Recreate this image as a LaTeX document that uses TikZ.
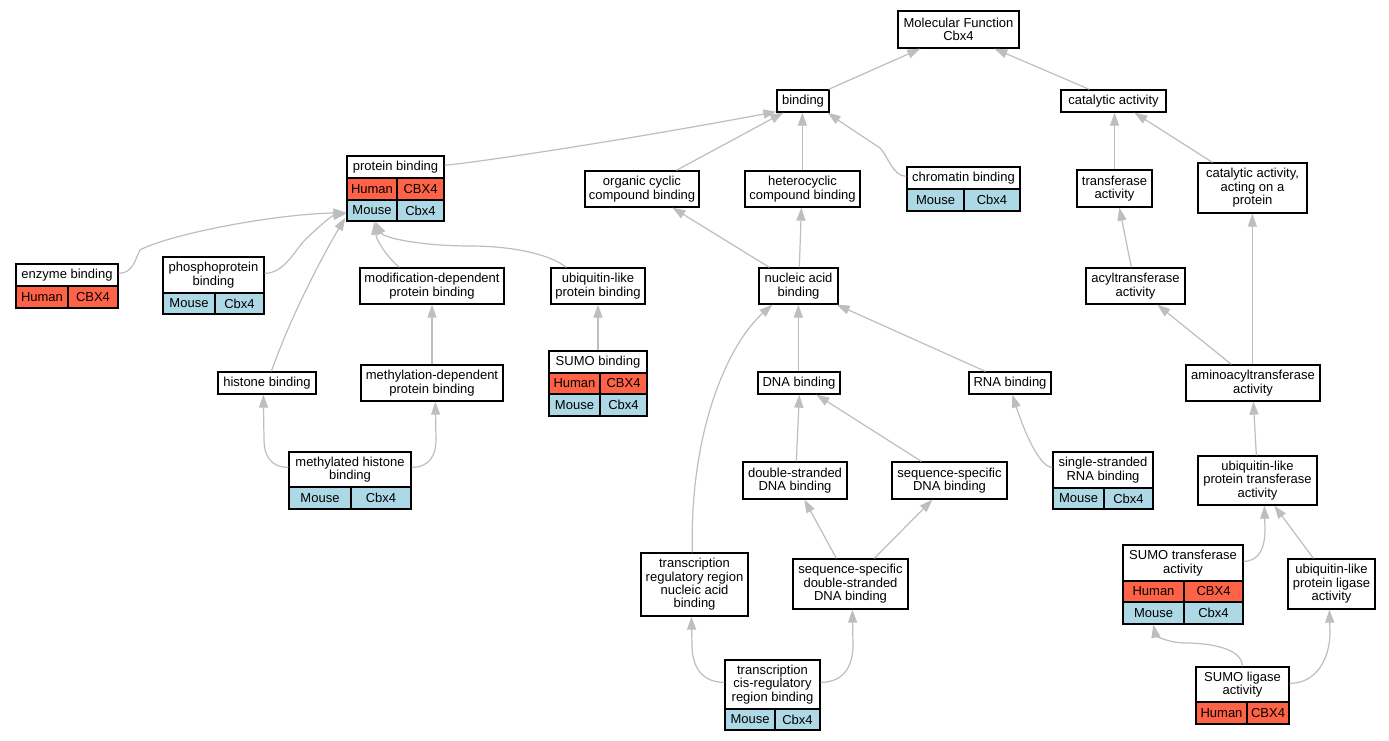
\documentclass[tikz,border=0pt]{standalone}
\usepackage{fontspec}
\setmainfont{Liberation Sans}
\usetikzlibrary{arrows.meta,calc}
\definecolor{edgegray}{HTML}{BEBEBE}
\definecolor{humanred}{HTML}{FF6347}
\definecolor{mouseblue}{HTML}{ADD8E6}
\newcommand\gofont{\fontsize{13}{13.4}\selectfont}
\tikzset{
  gobox/.style={draw=black, line width=1.3pt, fill=white, inner sep=0pt, align=center, font=\gofont},
  gocell/.style={draw=black, line width=1.3pt, inner sep=0pt, align=center, font=\gofont},
  goframe/.style={draw=black, line width=1.3pt, inner sep=0pt, fill=none},
  goedge/.style={draw=edgegray, line width=1.2pt, -{Triangle[length=13pt,width=9pt]}},
}
% name, x1, y1, x2, y2, text
\newcommand\gbox[6]{\node[gobox, minimum width={(#4)-(#2)}, minimum height={(#5)-(#3)}] (#1) at ({((#2)+(#4))/2},{((#3)+(#5))/2}) {#6};}
% name, x1, y1, x2, y2, colour, text
\newcommand\gcell[7]{\node[gocell, fill=#6, minimum width={(#4)-(#2)}, minimum height={(#5)-(#3)}] (#1) at ({((#2)+(#4))/2},{((#3)+(#5))/2}) {#7};}
% name, x1, y1, x2, y2
\newcommand\gframe[5]{\node[goframe, minimum width={(#4)-(#2)}, minimum height={(#5)-(#3)}] (#1) at ({((#2)+(#4))/2},{((#3)+(#5))/2}) {};}
\begin{document}
\begin{tikzpicture}[x=1pt,y=-1pt]
\fill[white] (0,0) rectangle (1389,741);
\useasboundingbox (0,0) rectangle (1389,741);

% ---------- plain boxes ----------
\gbox{mf}{898}{11}{1019}{48}{Molecular Function\\Cbx4}
\gbox{bind}{777}{90}{829}{112}{binding}
\gbox{cat}{1061}{90}{1166}{112}{catalytic activity}
\gbox{occb}{585}{171}{699}{207}{organic cyclic\\compound binding}
\gbox{hccb}{745}{171}{860}{207}{heterocyclic\\compound binding}
\gbox{trans}{1077}{170}{1152}{207}{transferase\\activity}
\gbox{catp}{1198}{163}{1307}{213}{catalytic activity,\\acting on a\\protein}
\gbox{modp}{360}{268}{504}{304}{modification-dependent\\protein binding}
\gbox{ublp}{551}{268}{645}{304}{ubiquitin-like\\protein binding}
\gbox{nab}{759}{268}{838}{304}{nucleic acid\\binding}
\gbox{acyl}{1086}{268}{1185}{304}{acyltransferase\\activity}
\gbox{hist}{218}{372}{316}{394}{histone binding}
\gbox{methp}{361}{365}{503}{401}{methylation-dependent\\protein binding}
\gbox{dna}{758}{372}{840}{394}{DNA binding}
\gbox{rna}{969}{372}{1051}{394}{RNA binding}
\gbox{amino}{1186}{365}{1320}{401}{aminoacyltransferase\\activity}
\gbox{ds}{743}{462}{847}{499}{double-stranded\\DNA binding}
\gbox{ssd}{892}{462}{1007}{499}{sequence-specific\\DNA binding}
\gbox{ubt}{1198}{456}{1317}{505}{ubiquitin-like\\protein transferase\\activity}
\gbox{trr}{641}{553}{748}{616}{transcription\\regulatory region\\nucleic acid\\binding}
\gbox{ssds}{793}{559}{908}{609}{sequence-specific\\double-stranded\\DNA binding}
\gbox{ubl}{1288}{559}{1375}{609}{ubiquitin-like\\protein ligase\\activity}

% ---------- tables ----------
% protein binding
\gcell{pb-h}{347}{156}{444}{178}{white}{protein binding}
\gcell{pb-ha}{347}{178}{397}{200}{humanred}{Human}
\gcell{pb-hb}{397}{178}{444}{200}{humanred}{CBX4}
\gcell{pb-ma}{347}{200}{397}{221}{mouseblue}{Mouse}
\gcell{pb-mb}{397}{200}{444}{221}{mouseblue}{Cbx4}
\gframe{pb}{347}{156}{444}{221}
% chromatin binding
\gcell{chrom-h}{907}{167}{1020}{189}{white}{chromatin binding}
\gcell{chrom-ma}{907}{189}{964}{211}{mouseblue}{Mouse}
\gcell{chrom-mb}{964}{189}{1020}{211}{mouseblue}{Cbx4}
\gframe{chrom}{907}{167}{1020}{211}
% enzyme binding
\gcell{enz-h}{16}{264}{118}{286}{white}{enzyme binding}
\gcell{enz-ha}{16}{286}{68}{308}{humanred}{Human}
\gcell{enz-hb}{68}{286}{118}{308}{humanred}{CBX4}
\gframe{enz}{16}{264}{118}{308}
% phosphoprotein binding
\gcell{phos-h}{163}{257}{264}{293}{white}{phosphoprotein\\binding}
\gcell{phos-ma}{163}{293}{215}{314}{mouseblue}{Mouse}
\gcell{phos-mb}{215}{293}{264}{314}{mouseblue}{Cbx4}
\gframe{phos}{163}{257}{264}{314}
% SUMO binding
\gcell{sumob-h}{549}{351}{647}{373}{white}{SUMO binding}
\gcell{sumob-ha}{549}{373}{600}{394}{humanred}{Human}
\gcell{sumob-hb}{600}{373}{647}{394}{humanred}{CBX4}
\gcell{sumob-ma}{549}{394}{600}{416}{mouseblue}{Mouse}
\gcell{sumob-mb}{600}{394}{647}{416}{mouseblue}{Cbx4}
\gframe{sumob}{549}{351}{647}{416}
% methylated histone binding
\gcell{mhb-h}{289}{452}{411}{487}{white}{methylated histone\\binding}
\gcell{mhb-ma}{289}{487}{351}{509}{mouseblue}{Mouse}
\gcell{mhb-mb}{351}{487}{411}{509}{mouseblue}{Cbx4}
\gframe{mhb}{289}{452}{411}{509}
% single-stranded RNA binding
\gcell{ssr-h}{1053}{452}{1153}{488}{white}{single-stranded\\RNA binding}
\gcell{ssr-ma}{1053}{488}{1104}{509}{mouseblue}{Mouse}
\gcell{ssr-mb}{1104}{488}{1153}{509}{mouseblue}{Cbx4}
\gframe{ssr}{1053}{452}{1153}{509}
% SUMO transferase activity
\gcell{sumot-h}{1123}{545}{1243}{581}{white}{SUMO transferase\\activity}
\gcell{sumot-ha}{1123}{581}{1184}{602}{humanred}{Human}
\gcell{sumot-hb}{1184}{581}{1243}{602}{humanred}{CBX4}
\gcell{sumot-ma}{1123}{602}{1184}{624}{mouseblue}{Mouse}
\gcell{sumot-mb}{1184}{602}{1243}{624}{mouseblue}{Cbx4}
\gframe{sumot}{1123}{545}{1243}{624}
% transcription cis-regulatory region binding
\gcell{tcis-h}{725}{660}{820}{709}{white}{transcription\\cis-regulatory\\region binding}
\gcell{tcis-ma}{725}{709}{775}{730}{mouseblue}{Mouse}
\gcell{tcis-mb}{775}{709}{820}{730}{mouseblue}{Cbx4}
\gframe{tcis}{725}{660}{820}{730}
% SUMO ligase activity
\gcell{suml-h}{1196}{667}{1289}{702}{white}{SUMO ligase\\activity}
\gcell{suml-ha}{1196}{702}{1247}{724}{humanred}{Human}
\gcell{suml-hb}{1247}{702}{1289}{724}{humanred}{CBX4}
\gframe{suml}{1196}{667}{1289}{724}

% ---------- edges ----------
\draw[goedge] ($(bind.north east)+(-1,0)$) -- ($(mf.south west)+(23,0)$);
\draw[goedge] ($(cat.north west)+(29,0)$) -- ($(mf.south west)+(97,0)$);
\draw[goedge] ($(pb.north east)+(0,10)$) .. controls +(56,-6) and +(-127,24) .. ($(bind.south west)+(0,-1)$);
\draw[goedge] ($(occb.north west)+(92,0)$) -- ($(bind.south west)+(7,0)$);
\draw[goedge] ($(hccb.north west)+(58,0)$) -- ($(bind.south west)+(26,0)$);
\draw[goedge] ($(chrom.north west)+(0,10)$) .. controls +(-14,0) and +(7,6) .. (880,148) .. controls +(-15,-10) and +(17,12) .. ($(bind.south east)+(-2,0)$);
\draw[goedge] (trans.north) -- (trans.north |- cat.south);
\draw[goedge] ($(catp.north west)+(15,0)$) -- ($(cat.south west)+(74,0)$);
\draw[goedge] ($(acyl.north west)+(46,0)$) -- ($(trans.south west)+(43,0)$);
\draw[goedge] ($(enz.north east)+(0,10)$) .. controls +(14,0) and +(-5,10) .. (140,250) .. controls +(25,-14) and +(-80,2) .. ($(pb.south west)+(0,-9)$);
\draw[goedge] ($(phos.north east)+(0,17)$) .. controls +(18,0) and +(-10,12) .. (303,242) .. controls +(12,-12) and +(-15,2) .. ($(pb.south west)+(0,-8)$);
\draw[goedge] ($(hist.north west)+(54,0)$) .. controls +(25,-70) and +(-12,20) .. ($(pb.south west)+(-1,-4)$);
\draw[goedge] ($(modp.north west)+(40,0)$) .. controls +(-14,-12) and +(2,18) .. ($(pb.south west)+(28,0)$);
\draw[goedge] ($(ublp.north west)+(16,0)$) .. controls +(-18,-14) and +(40,0) .. (470,246) .. controls +(-50,0) and +(8,16) .. ($(pb.south west)+(29,0)$);
\draw[goedge] (sumob.north) -- (sumob.north |- ublp.south);
\draw[goedge] ($(nab.north west)+(11,0)$) -- ($(occb.south west)+(88,0)$);
\draw[goedge] ($(nab.north west)+(41,0)$) -- ($(hccb.south west)+(57,0)$);
\draw[goedge] (methp.north) -- (methp.north |- modp.south);
\draw[goedge] ($(mhb.north west)+(0,16)$) .. controls +(-18,0) and +(0,15) .. (264,440) -- ($(hist.south west)+(46,0)$);
\draw[goedge] ($(mhb.north east)+(0,16)$) .. controls +(18,0) and +(0,15) .. (436,440) -- ($(methp.south west)+(75,0)$);
\draw[goedge] ($(dna.north west)+(41,0)$) -- ($(nab.south west)+(40,0)$);
\draw[goedge] ($(rna.north west)+(17,0)$) -- ($(nab.south east)+(-2,0)$);
\draw[goedge] ($(trr.north west)+(52,0)$) .. controls +(-3,-120) and +(-45,40) .. ($(nab.south west)+(14,0)$);
\draw[goedge] ($(ds.north west)+(54,0)$) -- ($(dna.south west)+(42,0)$);
\draw[goedge] ($(ssd.north west)+(30,0)$) -- ($(dna.south west)+(59,0)$);
\draw[goedge] ($(ssr.north west)+(0,16)$) .. controls +(-15,0) and +(8,25) .. ($(rna.south west)+(44,0)$);
\draw[goedge] ($(ssds.north west)+(44,0)$) -- ($(ds.south west)+(62,0)$);
\draw[goedge] ($(ssds.north west)+(82,0)$) -- ($(ssd.south west)+(41,0)$);
\draw[goedge] ($(tcis.north west)+(0,23)$) .. controls +(-24,0) and +(0,20) .. (692,645) -- ($(trr.south west)+(51,0)$);
\draw[goedge] ($(tcis.north east)+(0,23)$) .. controls +(24,0) and +(0,20) .. (853,645) -- ($(ssds.south west)+(60,0)$);
\draw[goedge] ($(amino.north west)+(46,0)$) -- ($(acyl.south west)+(72,0)$);
\draw[goedge] ($(amino.north west)+(67,0)$) -- ($(catp.south west)+(55,0)$);
\draw[goedge] ($(ubt.north west)+(59,0)$) -- ($(amino.south west)+(68,0)$);
\draw[goedge] ($(sumot.north east)+(0,17)$) .. controls +(17,0) and +(0,15) .. (1265,530) -- ($(ubt.south west)+(67,0)$);
\draw[goedge] ($(ubl.north west)+(26,0)$) -- ($(ubt.south west)+(77,0)$);
\draw[goedge] ($(suml.north west)+(47,0)$) .. controls +(0,-18) and +(25,0) .. (1185,643) .. controls +(-18,0) and +(2,10) .. ($(sumot.south west)+(31,0)$);
\draw[goedge] ($(suml.north east)+(0,17)$) .. controls +(28,0) and +(0,25) .. (1330,632) -- ($(ubl.south west)+(42,0)$);
\end{tikzpicture}
\end{document}
